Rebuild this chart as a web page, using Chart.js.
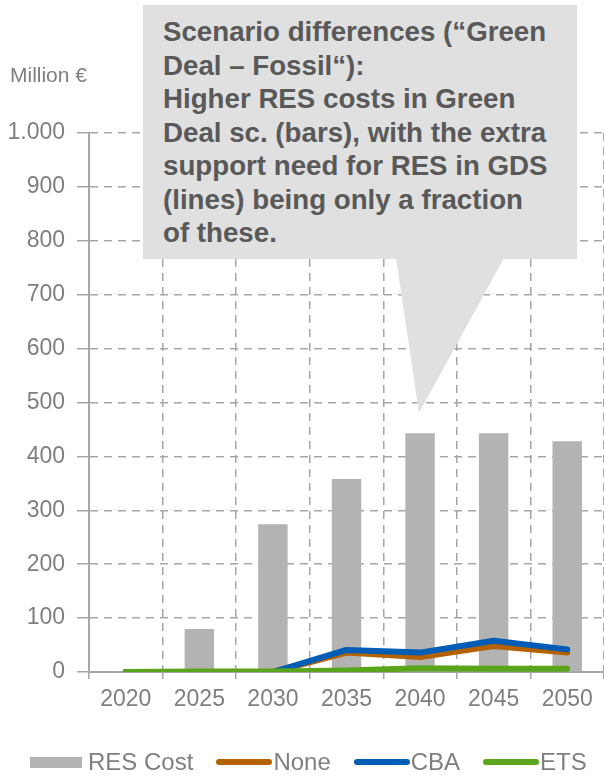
<!DOCTYPE html>
<html>
<head>
<meta charset="utf-8">
<script src="https://cdn.jsdelivr.net/npm/chart.js@4.4.1/dist/chart.umd.min.js"></script>
<style>
  body { margin: 0; background: #fff; }
  #wrap { position: relative; width: 604px; height: 780px; font-family: "Liberation Sans", Arial, sans-serif; }
  #resChart { position: absolute; left: 0; top: 0; }
  #unit { position: absolute; right: 517px; top: 63px; font-size: 21px; color: #7f7f7f; white-space: nowrap; }
  #note {
    position: absolute; left: 143px; top: 5px; width: 434px; height: 254px; box-sizing: border-box;
    padding: 10px 0 0 20px; background: #e0e0e0; color: #595959;
    font-weight: bold; font-size: 27.7px; line-height: 33.5px; white-space: nowrap;
  }
  #noteTail {
    position: absolute; left: 396px; top: 258px; width: 108px; height: 155px; background: #e0e0e0;
    clip-path: polygon(0 0, 100% 0, 21.3% 100%);
  }
  #legend {
    position: absolute; left: 30px; top: 748px; height: 28px; display: flex; align-items: center;
    font-size: 24px; color: #7f7f7f; white-space: nowrap;
  }
  #legend .item { display: flex; align-items: center; margin-right: 23px; }
  #legend .box { width: 52px; height: 11px; margin-right: 6px; }
  #legend .line { width: 56px; height: 6px; border-radius: 3px; margin-right: 1px; }
</style>
</head>
<body>
<div id="wrap">
  <canvas id="resChart" width="604" height="780"></canvas>
  <div id="unit">Million €</div>
  <div id="noteTail"></div>
  <div id="note">Scenario differences (“Green<br>Deal – Fossil“):<br>Higher RES costs in Green<br>Deal sc. (bars), with the extra<br>support need for RES in GDS<br>(lines) being only a fraction<br>of these.</div>
  <div id="legend"></div>
</div>

<script>
// ========================== DATA =============================

const years = ["2020", "2025", "2030", "2035", "2040", "2045", "2050"];
const resCost = [0, 80, 274, 358, 443, 443, 428];
const supportNone = [0, 0, 0, 36, 28, 48, 36];
const supportCBA = [0, 0, 0, 41, 36, 58, 42];
const supportETS = [0, 1, 1, 3, 7, 6, 6];
const yTickLabels = ["0", "100", "200", "300", "400", "500", "600", "700", "800", "900", "1.000"];

// ========================== STYLE =============================

const gridGray = "#a6a6a6";
const textGray = "#7f7f7f";
const font = { family: "'Liberation Sans', Arial, sans-serif", size: 23 };

function lineSet(label, data, color, order) {
  return {
    type: "line",
    label: label,
    data: data,
    borderColor: color,
    backgroundColor: color,
    borderWidth: 6,
    borderCapStyle: "round",
    borderJoinStyle: "round",
    pointRadius: 0,
    tension: 0,
    order: order,
  };
}

// ========================== CHART =============================

const chart = new Chart(document.getElementById("resChart"), {
  type: "bar",
  data: {
    labels: years,
    datasets: [
      {
        label: "RES Cost",
        data: resCost,
        backgroundColor: "#b2b3b2",
        borderWidth: 0,
        categoryPercentage: 1,
        barPercentage: 0.4,
        order: 4,
      },
      lineSet("None", supportNone, "#b46200", 3),
      lineSet("CBA", supportCBA, "#005db5", 2),
      lineSet("ETS", supportETS, "#5aa51c", 1),
    ],
  },
  options: {
    responsive: false,
    animation: false,
    layout: { padding: { top: 133, right: 0, bottom: 36, left: 0 } },
    plugins: {
      tooltip: { enabled: false },
      legend: { display: false },
    },
    scales: {
      x: {
        afterFit: (scale) => { scale.height = 72; },
        grid: { offset: true, color: gridGray, lineWidth: 1.5, tickLength: 7, tickColor: gridGray },
        border: { color: gridGray, width: 2, dash: [8, 6] },
        ticks: { color: textGray, font: font, padding: 7, maxRotation: 0 },
      },
      y: {
        min: 0,
        max: 1000,
        afterFit: (scale) => { scale.width = 89; },
        grid: { color: gridGray, lineWidth: 1.5, tickLength: 12, tickColor: gridGray },
        border: { color: gridGray, width: 2, dash: [8, 6] },
        ticks: {
          stepSize: 100,
          color: textGray,
          font: font,
          padding: 12,
          callback: (v) => yTickLabels[Math.round(v / 100)],
        },
      },
    },
  },
});

// Legend built from the chart's datasets
const legendEl = document.getElementById("legend");
chart.data.datasets.forEach((ds) => {
  const item = document.createElement("div");
  item.className = "item";
  const swatch = document.createElement("span");
  swatch.className = ds.type === "line" ? "line" : "box";
  swatch.style.background = ds.type === "line" ? ds.borderColor : ds.backgroundColor;
  const text = document.createElement("span");
  text.textContent = ds.label;
  item.appendChild(swatch);
  item.appendChild(text);
  legendEl.appendChild(item);
});
</script>
</body>
</html>
